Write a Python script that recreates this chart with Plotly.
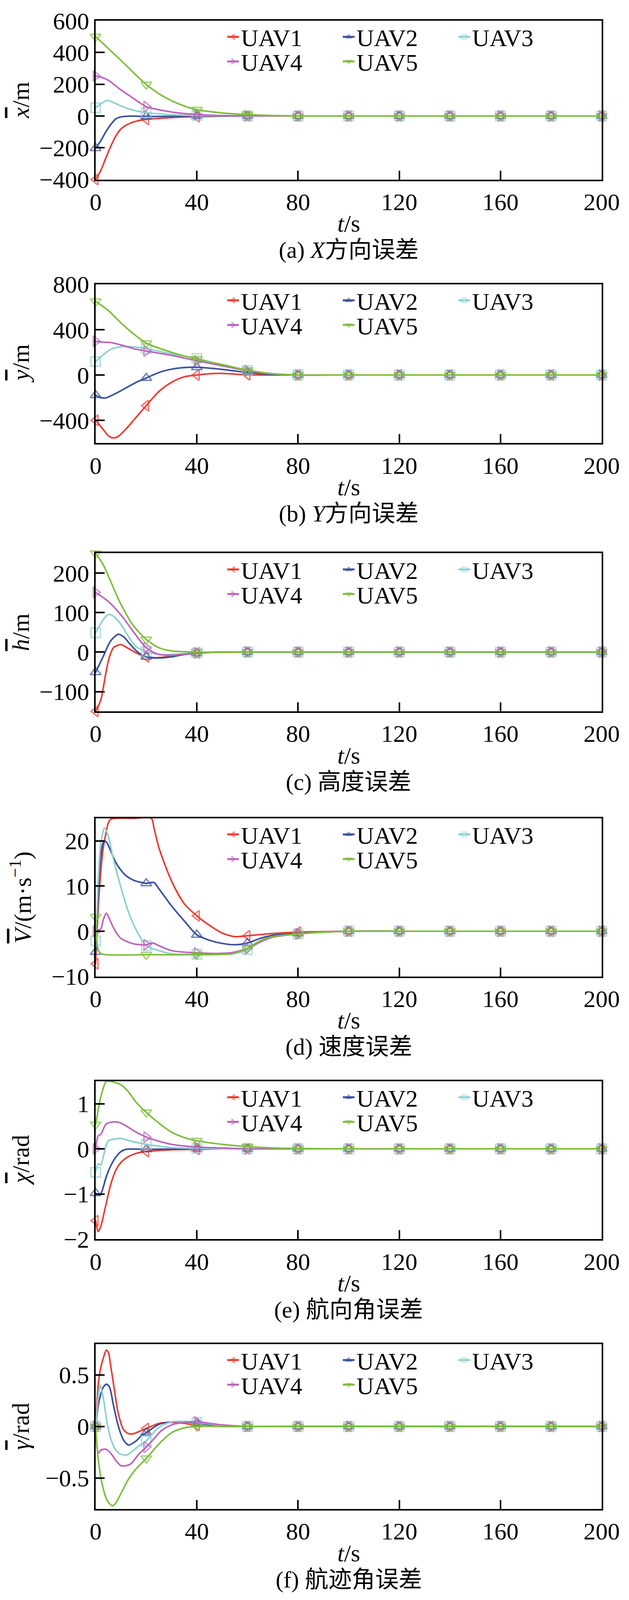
import plotly.graph_objects as go
from plotly.subplots import make_subplots

# ---------------------------------------------------------------------------
# data (t in s)
# ---------------------------------------------------------------------------
UAV_NAMES = ["UAV1", "UAV2", "UAV3", "UAV4", "UAV5"]
UAV_COLORS = ["#EB3C32", "#37509F", "#8DCFCF", "#BC64BC", "#7DBE3C"]
UAV_SYMBOLS = ["triangle-left-open-dot", "triangle-up-open-dot", "square-open-dot",
               "triangle-right-open-dot", "triangle-down-open-dot"]

MARK_T = [0, 20, 40, 60, 80, 100, 120, 140, 160, 180, 200]
TAIL_T = [100, 120, 140, 160, 180, 200]
TAIL_V = [0, 0, 0, 0, 0, 0]

# (a) X error
A_T1 = [0, 2, 4, 6, 8, 10, 13, 16, 20, 30, 40, 60, 80]
A_V1 = [-400, -345, -265, -190, -125, -82, -50, -33, -22, -10, -4, 0, 0]
A_T2 = [0, 2, 4, 6, 8, 10, 14, 20, 30, 40, 60, 80]
A_V2 = [-203, -157, -100, -53, -18, -6, -1, -3, -2, 0, 0, 0]
A_T3 = [0, 2, 4.5, 7, 10, 15, 20, 30, 40, 60, 80]
A_V3 = [52, 75, 98, 85, 63, 36, 21, 8, 3, 0, 0]
A_T4 = [0, 3, 5, 10, 15, 20, 30, 40, 50, 60, 80]
A_V4 = [252, 240, 225, 164, 110, 59, 25, 9, 3, 1, 0]
A_T5 = [0, 5, 10, 15, 20, 25, 30, 35, 40, 50, 60, 70, 80]
A_V5 = [500, 425, 350, 272, 198, 140, 96, 63, 40, 19, 9, 3, 0]

# (b) Y error
B_T1 = [0, 3, 5, 7, 9, 12, 16, 20, 25, 30, 35, 40, 45, 50, 60, 70, 80]
B_V1 = [-400, -481, -535, -555, -540, -476, -373, -270, -146, -65, -16, 0, 11, 14, 2, 0, 0]
B_T2 = [0, 2, 4, 8, 12, 16, 20, 25, 30, 35, 40, 50, 60, 70, 80]
B_V2 = [-178, -200, -202, -162, -114, -65, -27, 22, 51, 65, 68, 49, 22, 5, 0]
B_T3 = [0, 3, 6, 10, 15, 20, 30, 40, 50, 60, 70, 80]
B_V3 = [119, 178, 227, 249, 249, 232, 187, 146, 86, 40, 10, 0]
B_T4 = [0, 3, 6, 10, 15, 20, 30, 40, 50, 60, 70, 80]
B_V4 = [297, 289, 286, 265, 232, 211, 173, 125, 81, 38, 10, 0]
B_T5 = [0, 5, 10, 15, 20, 30, 40, 50, 60, 70, 80]
B_V5 = [649, 568, 459, 362, 281, 200, 140, 92, 43, 11, 0]

# (c) altitude error
C_T1 = [0, 2, 3, 4, 5, 6, 7, 8, 10, 13, 16, 20, 25, 30, 40, 50, 60, 80]
C_V1 = [-150, -122, -91, -54, -23, -2, 11, 15, 19, 9, -2, -12, -14, -10, -2, 0, 0, 0]
C_T2 = [0, 3, 6, 9, 11, 14, 17, 20, 25, 30, 35, 40, 50, 60, 80]
C_V2 = [-51, -11, 29, 45, 39, 17, -2, -12, -15, -12, -6, -3, 0, 0, 0]
C_T3 = [0, 3, 5, 7, 10, 13, 16, 20, 25, 30, 40, 50, 60, 80]
C_V3 = [49, 82, 95, 91, 70, 39, 14, 2, -6, -6, -2, 0, 0, 0]
C_T4 = [0, 5, 10, 15, 20, 25, 30, 40, 50, 60, 80]
C_V4 = [151, 128, 94, 51, 11, -6, -8, -2, 0, 0, 0]
C_T5 = [0, 3, 6, 9, 12, 15, 20, 25, 30, 40, 60, 80]
C_V5 = [250, 221, 178, 134, 97, 66, 32, 11, 3, 0, 0, 0]

# (d) speed error
D_T1 = [0, 1, 2, 3, 4, 5, 6, 8, 15, 22, 23, 25, 30, 35, 40, 45, 50, 55, 60, 70, 80, 90]
D_V1 = [-7.2, 5, 13, 18.5, 21.5, 24, 24.8, 25, 25, 25, 23, 18.5, 11.1, 6.1, 3.4, 1.3,
        -0.4, -1.2, -1.0, -0.5, -0.2, -0.1]
D_T2 = [0, 1, 2, 3, 4, 6, 8, 10, 12, 15, 20, 23, 25, 30, 35, 40, 45, 50, 55, 60, 65,
        70, 80, 90]
D_V2 = [-4.6, 8.3, 16.6, 19.6, 19.9, 17.7, 15.2, 13.5, 12.3, 11.3, 10.6, 10.8, 9.4, 5.6,
        2.3, -0.8, -2.0, -2.7, -3.0, -2.6, -1.6, -0.9, -0.5, -0.2]
D_T3 = [0, 1, 2, 3.5, 5, 7, 10, 13, 16, 20, 25, 30, 40, 50, 55, 60, 65, 70, 80, 90]
D_V3 = [-2.1, 11, 19.3, 22.9, 21, 16, 9.7, 4.2, 0.3, -3.2, -4.3, -5.0, -5.1, -5.1, -4.9,
        -4.1, -2.4, -1.3, -0.6, -0.2]
D_T4 = [0, 2, 3, 4.2, 5, 6, 8, 10, 15, 20, 22.5, 25, 30, 40, 50, 55, 60, 65, 70, 80, 90]
D_V4 = [0, 0.5, 2.5, 4.0, 3.3, 2.0, -0.2, -1.6, -2.8, -3.0, -2.6, -3.2, -4.3, -4.8, -4.9,
        -4.6, -3.8, -2.4, -1.3, -0.6, -0.2]
D_T5 = [0, 1, 2, 4, 20, 40, 54, 58, 60, 65, 70, 80, 90]
D_V5 = [3.2, -4.1, -4.9, -5.2, -5.2, -5.2, -5.0, -4.3, -3.8, -2.1, -1.2, -0.6, -0.2]

# (e) heading angle error
E_T1 = [0, 1, 2, 4, 6, 8, 10, 13, 16, 20, 30, 40, 50, 60, 80]
E_V1 = [-1.59, -1.83, -1.72, -1.25, -0.78, -0.47, -0.30, -0.17, -0.10, -0.06, -0.02,
        -0.01, 0, 0, 0]
E_T2 = [0, 1, 2, 3, 4, 6, 8, 10, 12, 20, 40, 60, 80]
E_V2 = [-0.98, -1.02, -1.0, -0.85, -0.65, -0.37, -0.18, -0.06, -0.01, -0.01, 0, 0, 0]
E_T3 = [0, 1, 2, 3, 5, 8, 10, 14, 20, 25, 30, 40, 50, 60, 80]
E_V3 = [-0.52, -0.33, -0.36, -0.18, 0.18, 0.22, 0.23, 0.17, 0.10, 0.06, 0.03, 0.01, 0, 0, 0]
E_T4 = [0, 1, 2, 4, 6, 9, 12, 16, 20, 25, 30, 40, 50, 60, 80]
E_V4 = [0, 0.29, 0.32, 0.54, 0.59, 0.59, 0.51, 0.37, 0.26, 0.17, 0.10, 0.04, 0.02, 0, 0]
E_T5 = [0, 2, 4, 5, 7, 10, 13, 16, 20, 25, 30, 35, 40, 50, 60, 70, 80]
E_V5 = [0.54, 1.14, 1.48, 1.5, 1.48, 1.42, 1.26, 1.03, 0.81, 0.57, 0.37, 0.25, 0.18, 0.10,
        0.05, 0.02, 0.01]

# (f) flight-path angle error
F_T1 = [0, 1, 2, 3.5, 4.2, 5, 6, 7.5, 9, 11, 13, 15, 18, 20, 25, 30, 35, 40, 50, 60, 80]
F_V1 = [0, 0.40, 0.57, 0.70, 0.74, 0.72, 0.58, 0.34, 0.12, -0.03, -0.07, -0.07, -0.04,
        -0.02, 0.03, 0.04, 0.03, 0.01, 0, 0, 0]
F_T2 = [0, 1, 2, 3, 4.3, 5.5, 7, 9, 11, 13, 16, 18, 20, 25, 30, 35, 40, 50, 60, 80]
F_V2 = [0, 0.20, 0.31, 0.38, 0.41, 0.38, 0.21, 0, -0.13, -0.18, -0.14, -0.09, -0.06, 0.02,
        0.045, 0.047, 0.03, 0.01, 0, 0]
F_T3 = [0, 1, 1.8, 3, 4.5, 6, 8, 10, 12.5, 14, 17, 20, 22, 25, 30, 35, 40, 50, 60, 80]
F_V3 = [0, 0.28, 0.40, 0.28, 0.04, -0.12, -0.23, -0.27, -0.275, -0.25, -0.19, -0.14,
        -0.085, -0.01, 0.045, 0.05, 0.04, 0.01, 0, 0]
F_T4 = [0, 1, 2, 4, 6, 8, 10, 12, 14, 17, 20, 23, 26, 30, 35, 40, 50, 60, 80]
F_V4 = [0, -0.26, -0.23, -0.22, -0.26, -0.33, -0.38, -0.38, -0.36, -0.27, -0.20, -0.12,
        -0.04, 0.015, 0.04, 0.045, 0.015, 0, 0]
F_T5 = [0, 1, 2.5, 4.4, 6.6, 8, 10, 13, 16, 20, 25, 30, 35, 40, 50, 60, 80]
F_V5 = [0, -0.31, -0.55, -0.71, -0.77, -0.74, -0.65, -0.51, -0.41, -0.31, -0.17, -0.06,
        -0.014, 0, 0, 0, 0]

OL = '<span style="text-decoration:overline">{}</span>'
Y_TITLES = ["<i>" + OL.format("x") + "</i>/m", "<i>" + OL.format("y") + "</i>/m",
            "<i>" + OL.format("h") + "</i>/m",
            "<i>" + OL.format("V") + "</i>/(m·s<sup>−1</sup>)",
            "<i>" + OL.format("χ") + "</i>/rad", "<i>" + OL.format("γ") + "</i>/rad"]
CAPTIONS = ["(a) <i>X</i>方向误差", "(b) <i>Y</i>方向误差", "(c) 高度误差",
            "(d) 速度误差", "(e) 航向角误差", "(f) 航迹角误差"]
Y_RANGES = [[-400, 600], [-600, 800], [-150, 250], [-10, 25], [-2, 1.5], [-0.8, 0.8]]
Y_TICKS = [[-400, -200, 0, 200, 400, 600], [-400, 0, 400, 800], [-100, 0, 100, 200],
           [-10, 0, 10, 20], [-2, -1, 0, 1], [-0.5, 0, 0.5]]
X_TICKS = [0, 40, 80, 120, 160, 200]

PANEL_DATA = [
    [(A_T1, A_V1), (A_T2, A_V2), (A_T3, A_V3), (A_T4, A_V4), (A_T5, A_V5)],
    [(B_T1, B_V1), (B_T2, B_V2), (B_T3, B_V3), (B_T4, B_V4), (B_T5, B_V5)],
    [(C_T1, C_V1), (C_T2, C_V2), (C_T3, C_V3), (C_T4, C_V4), (C_T5, C_V5)],
    [(D_T1, D_V1), (D_T2, D_V2), (D_T3, D_V3), (D_T4, D_V4), (D_T5, D_V5)],
    [(E_T1, E_V1), (E_T2, E_V2), (E_T3, E_V3), (E_T4, E_V4), (E_T5, E_V5)],
    [(F_T1, F_V1), (F_T2, F_V2), (F_T3, F_V3), (F_T4, F_V4), (F_T5, F_V5)],
]

# ---------------------------------------------------------------------------
# page geometry: positions measured on the 4325 px tall reference, squeezed
# vertically so the whole figure lands inside the captured area
# ---------------------------------------------------------------------------
W, H_REF = 1611, 4325
H = 4080
VS = H / H_REF
PLOT_L, PLOT_R = 237, 1533
FRAME_TOP_REF = [38, 755, 1487, 2208, 2923, 3638]
FRAME_BOT_REF = [470, 1187, 1917, 2638, 3353, 4087]
FONT = "Liberation Serif, Times New Roman, Noto Sans CJK SC, serif"
FS = 62
LEG_X = 569          # left edge of the legend boxes
ENTRY_W = 251
MARKER_SIZE = 24

PLOT_T = FRAME_TOP_REF[0] * VS
PLOT_B = FRAME_BOT_REF[-1] * VS


def px_x(x):
    return (x - PLOT_L) / (PLOT_R - PLOT_L)


def px_y(y_ref):
    # reference pixel row -> paper coordinate
    return (PLOT_B - y_ref * VS) / (PLOT_B - PLOT_T)


def legend_name(k):
    return "legend" if k == 1 else f"legend{k}"


fig = make_subplots(rows=6, cols=1)

for p, curves in enumerate(PANEL_DATA):
    for u, (ts, vs) in enumerate(curves):
        t_all = list(ts) + TAIL_T
        v_all = list(vs) + TAIL_V
        is_mark = [t in MARK_T for t in t_all]
        leg = legend_name(2 * p + 1) if u < 3 else legend_name(2 * p + 2)
        fig.add_trace(go.Scatter(
            x=t_all, y=v_all,
            mode="lines+markers",
            name=UAV_NAMES[u],
            legend=leg,
            line=dict(color=UAV_COLORS[u], width=4, shape="spline", smoothing=0.8),
            marker=dict(
                symbol=UAV_SYMBOLS[u],
                size=[MARKER_SIZE if m else 0 for m in is_mark],
                color=[UAV_COLORS[u] if m else "rgba(0,0,0,0)" for m in is_mark],
                line=dict(width=3.5),
            ),
            cliponaxis=False,
            hoverinfo="skip",
        ), row=p + 1, col=1)

    top, bot = FRAME_TOP_REF[p], FRAME_BOT_REF[p]
    fig.update_yaxes(
        domain=[px_y(bot), px_y(top)], range=Y_RANGES[p], tickvals=Y_TICKS[p],
        row=p + 1, col=1,
    )
    fig.update_xaxes(range=[0, 200], tickvals=X_TICKS, row=p + 1, col=1)

    leg_common = dict(
        orientation="h", xanchor="left", yanchor="middle",
        x=px_x(LEG_X), font=dict(family=FONT, size=FS, color="black"),
        bgcolor="rgba(0,0,0,0)", entrywidth=ENTRY_W, entrywidthmode="pixels",
        itemsizing="constant", traceorder="normal",
    )
    fig.update_layout({
        legend_name(2 * p + 1): dict(leg_common, y=px_y(top + 44)),
        legend_name(2 * p + 2): dict(leg_common, y=px_y(top + 111)),
    })

    fig.add_annotation(
        text=Y_TITLES[p], xref="paper", yref="paper",
        x=px_x(45), y=px_y((top + bot) / 2), textangle=-90,
        xanchor="center", yanchor="middle", showarrow=False,
        font=dict(family=FONT, size=FS, color="black"),
    )
    fig.add_annotation(
        text="<i>t</i>/s", xref="paper", yref="paper",
        x=px_x(885), y=px_y(bot + 120), xanchor="center", yanchor="middle",
        showarrow=False, font=dict(family=FONT, size=FS, color="black"),
    )
    fig.add_annotation(
        text=CAPTIONS[p], xref="paper", yref="paper",
        x=px_x(885), y=px_y(bot + 192), xanchor="center", yanchor="middle",
        showarrow=False, font=dict(family=FONT, size=60, color="black"),
    )

axis_style = dict(
    showline=True, linewidth=4, linecolor="black", mirror=True,
    ticks="inside", ticklen=23, tickwidth=4, tickcolor="black",
    showgrid=False, zeroline=False,
    tickfont=dict(family=FONT, size=FS, color="black"),
)
fig.update_xaxes(axis_style)
fig.update_yaxes(axis_style)
fig.update_xaxes(domain=[0, 1])

fig.update_layout(
    width=W, height=H,
    margin=dict(l=PLOT_L, r=W - PLOT_R, t=PLOT_T, b=H - PLOT_B),
    plot_bgcolor="white", paper_bgcolor="white",
    font=dict(family=FONT, size=FS, color="black"),
)

fig.write_html("out.html")
